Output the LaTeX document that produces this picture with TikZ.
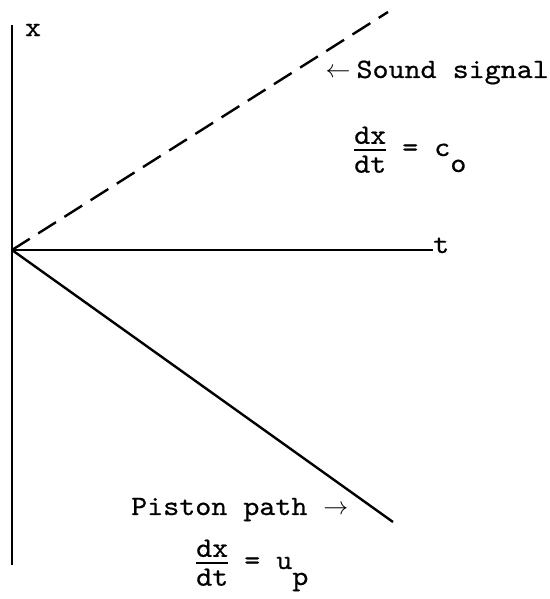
\documentclass[tikz,border=0pt]{standalone}
\usepackage{fontspec}
\newfontfamily\tw[FakeStretch=1.09,FakeBold=0.6]{lmmono10-regular.otf}
\newcommand\twfrac[2]{$\vcenter{\hbox{#1}\kern5pt\hrule height 1.6pt\kern5pt\hbox{#2}}$}
\begin{document}
\begin{tikzpicture}[x=1pt,y=1pt,
  lbl/.style={inner sep=0pt, font=\fontsize{28}{32}\tw},
  axis/.style={line width=2.6pt},
  path/.style={line width=2.4pt},
  sig/.style={line width=2.4pt, dash pattern=on 21pt off 10pt}]
\useasboundingbox (0,0) rectangle (549,599);
\coordinate (O) at (12,349);
\coordinate (ytop) at (12,574);
\coordinate (ybot) at (12,34);
\coordinate (tend) at (433,349);
\coordinate (sigend) at (388,587);
\coordinate (pisend) at (393,77);
\draw[axis] (ytop) -- (ybot);
\draw[axis] (O) -- (tend);
\node[lbl, anchor=base west] (t) at (433,346) {t};
\node[lbl] (x) at (33,569) {x};
\draw[sig] (O) -- (sigend);
\draw[path] (O) -- (pisend);
\node[lbl, anchor=base east] (sound) at (549,521) {$\leftarrow$\kern6pt Sound signal};
\node[lbl, anchor=base west] (co) at (354,443) {\twfrac{dx}{dt}\ = c\raisebox{-16pt}{o}};
\node[lbl, anchor=base west] (piston) at (131,84) {Piston path\ $\rightarrow$};
\node[lbl, anchor=base west] (up) at (196,30) {\twfrac{dx}{dt}\ = u\raisebox{-16pt}{p}};
\end{tikzpicture}
\end{document}
